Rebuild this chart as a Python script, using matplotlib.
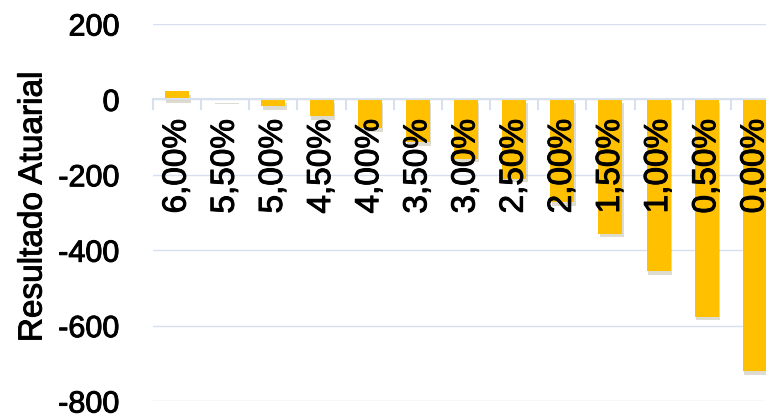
import numpy as np
import matplotlib.pyplot as plt
import matplotlib.patheffects as pe

plt.rcParams['font.family'] = ['Liberation Sans', 'DejaVu Sans']

taxas = ["6,00%", "5,50%", "5,00%", "4,50%", "4,00%", "3,50%", "3,00%",
         "2,50%", "2,00%", "1,50%", "1,00%", "0,50%", "0,00%"]
resultado = [22, -2, -18, -45, -77, -114, -158, -211, -273, -357, -456, -576, -721]

GRID = "#d6e0ef"
BAR = "#ffc000"
# texto um pouco mais encorpado, como no original
THICK = [pe.withStroke(linewidth=0.7, foreground='black')]

fig = plt.figure(figsize=(7.66, 4.17), dpi=100)
ax = fig.add_axes([153 / 766, 16 / 417, 626 / 766, 377 / 417])

x = np.arange(len(taxas))
bars = ax.bar(x, resultado, width=0.5, color=BAR, zorder=2)
for b in bars:
    b.set_path_effects([pe.SimplePatchShadow(offset=(1, -2.5), alpha=0.18),
                        pe.Normal()])

ax.set_xlim(-0.5, len(taxas) - 0.5)
ax.set_ylim(-800, 200)
ax.set_yticks([200, 0, -200, -400, -600, -800])
ax.set_yticklabels(["200", "0", "-200", "-400", "-600", "-800"], fontsize=22)
ax.tick_params(axis='y', length=0, pad=24)
ax.grid(axis='y', color=GRID, lw=1)
ax.set_axisbelow(True)

for s in ['top', 'right', 'left']:
    ax.spines[s].set_visible(False)
ax.spines['bottom'].set_position(('data', 0))
ax.spines['bottom'].set_color(GRID)
ax.spines['bottom'].set_linewidth(1.5)

ax.set_xticks(x)
ax.set_xticklabels(taxas, rotation=90, fontsize=24, va='top')
ax.tick_params(axis='x', which='major', length=0, pad=14)
ax.set_xticks(np.arange(-0.5, len(taxas), 1), minor=True)
ax.tick_params(axis='x', which='minor', length=8, width=1.5, color=GRID,
               direction='out')
ax.xaxis.set_zorder(5)

for t in ax.get_xticklabels() + ax.get_yticklabels():
    t.set_path_effects(THICK)

fig.text(33 / 766, 1 - 207 / 417, "Resultado Atuarial", rotation=90,
         fontsize=24, ha='center', va='center', path_effects=THICK)

fig.savefig("out.png", dpi=100)
